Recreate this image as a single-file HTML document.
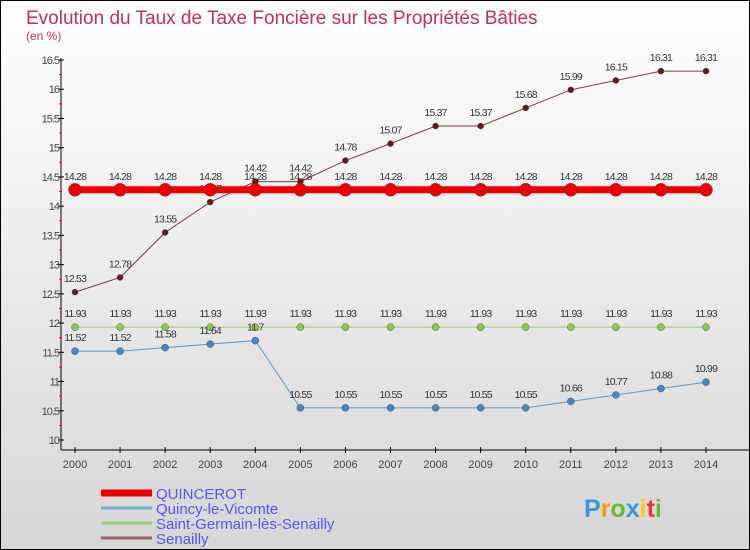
<!DOCTYPE html>
<html><head><meta charset="utf-8"><style>
body{margin:0}
#c{width:748px;height:548px;border:1px solid #000;background:linear-gradient(#fff,#d6d6d6);position:relative;font-family:"Liberation Sans",sans-serif;overflow:hidden}
</style></head><body>
<div id="c">
<svg id="s" width="748" height="548"></svg>
</div>
<script>
const years=[2000,2001,2002,2003,2004,2005,2006,2007,2008,2009,2010,2011,2012,2013,2014];
const quincerot=[14.28,14.28,14.28,14.28,14.28,14.28,14.28,14.28,14.28,14.28,14.28,14.28,14.28,14.28,14.28];
const quincy=[11.52,11.52,11.58,11.64,11.7,10.55,10.55,10.55,10.55,10.55,10.55,10.66,10.77,10.88,10.99];
const stgermain=[11.93,11.93,11.93,11.93,11.93,11.93,11.93,11.93,11.93,11.93,11.93,11.93,11.93,11.93,11.93];
const senailly=[12.53,12.78,13.55,14.07,14.42,14.42,14.78,15.07,15.37,15.37,15.68,15.99,16.15,16.31,16.31];
const yTicks=["10","10.5","11","11.5","12","12.5","13","13.5","14","14.5","15","15.5","16","16.5"];
const names=["QUINCEROT","Quincy-le-Vicomte","Saint-Germain-lès-Senailly","Senailly"];
const s=document.getElementById('s');const NS='http://www.w3.org/2000/svg';
function el(t,a,p){const e=document.createElementNS(NS,t);for(const k in a)e.setAttribute(k,a[k]);(p||s).appendChild(e);return e;}
const X=i=>74+i*(705-74)/14, Y=v=>439-(v-10)*(380/6.5);
function txt(x,y,str,a,p){const e=el('text',Object.assign({x:x,y:y,'font-size':11,fill:'#444'},a||{}),p);e.textContent=str;return e;}
let t=txt(25,23,"Evolution du Taux de Taxe Foncière sur les Propriétés Bâties",{'font-size':19,fill:'#c0305a'});

t=txt(25,39,"(en %)",{'font-size':12,fill:'#c0305a'});

let a=el('line',{x1:60,y1:57,x2:60,y2:449,stroke:'#000'});
a=el('line',{x1:60,y1:449,x2:748,y2:449,stroke:'#000'});
yTicks.forEach((l,i)=>{const y=Y(+l);el('line',{x1:57,y1:y,x2:63,y2:y,stroke:'#000'});
 if(i<13)el('line',{x1:58,y1:Y(+l+0.25),x2:61,y2:Y(+l+0.25),stroke:'red'});
 const e=txt(58,y+4,l,{'text-anchor':'end','font-size':11,'letter-spacing':'-1'});});
years.forEach((yr,i)=>{el('line',{x1:X(i),y1:446,x2:X(i),y2:452,stroke:'#000'});
 const e=txt(X(i),467,String(yr),{'text-anchor':'middle','font-size':11});});
function series(d,col,w,r,dot,name){const g=el('g',{});
 el('polyline',{points:d.map((v,i)=>X(i)+','+Y(v)).join(' '),fill:'none',stroke:col,'stroke-width':w},g);
 d.forEach((v,i)=>{const c=el('circle',{cx:X(i),cy:Y(v),r:r,fill:dot,stroke:'#333','stroke-width':0.4},g);
  txt(X(i),Y(v)-10,String(v),{'text-anchor':'middle','font-size':10.5,'letter-spacing':'-0.8',fill:'#333'},g);});}
series(stgermain,'#99cc66',1,3.5,'#88cc44','series-saint-germain');
series(quincy,'#5599cc',1,3.5,'#4488cc','series-quincy');
series(senailly,'#7a3a3a',1,3,'#661818','series-senailly');
series(quincerot,'#ee0000',7,6.5,'#ee0000','series-quincerot');
const lc=['#ee0000','#7aaed0','#99cc77','#996666'],lw=[7,3,3,3];
names.forEach((n,i)=>{const y=492+i*15;const g=el('g',{});
 el('line',{x1:100,y1:y,x2:151,y2:y,stroke:lc[i],'stroke-width':lw[i]},g);
 txt(155,y+6,n,{'font-size':15,fill:'#5555ee'},g);});
const lg=el('text',{x:583,y:516,'font-size':25,'font-weight':'bold'});
const letters=[['P','#3399dd'],['r','#ff9900'],['o','#66bb33'],['x','#3399dd'],['i','#ffcc00'],['t','#ee3333'],['i','#66bb33']];
letters.forEach(l=>{const sp=el('tspan',{fill:l[1]},lg);sp.textContent=l[0];});
</script>
</body></html>
